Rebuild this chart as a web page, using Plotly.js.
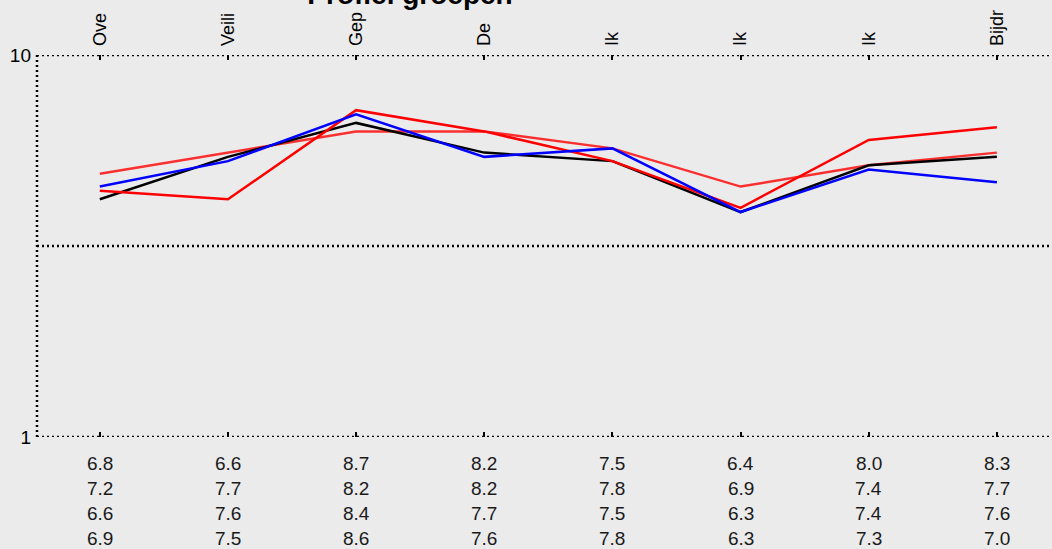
<!DOCTYPE html>
<html>
<head>
<meta charset="utf-8">
<script src="https://cdn.plot.ly/plotly-3.0.1.min.js"></script>
<style>html,body{margin:0;padding:0;background:#ebebeb;}#chart{width:1052px;height:549px;}</style>
</head>
<body>
<div id="chart"></div>
<script>
var categories = ["Ove", "Veili", "Gep", "De", "Ik", "Ik", "Ik", "Bijdr"];
var series1 = [6.8, 6.6, 8.7, 8.2, 7.5, 6.4, 8.0, 8.3];
var series2 = [7.2, 7.7, 8.2, 8.2, 7.8, 6.9, 7.4, 7.7];
var series3 = [6.6, 7.6, 8.4, 7.7, 7.5, 6.3, 7.4, 7.6];
var series4 = [6.9, 7.5, 8.6, 7.6, 7.8, 6.3, 7.3, 7.0];
var yTicks = [1, 10];
var titleText = "Profiel groepen";

var idx = categories.map(function(_, i){ return i; });
var FONT = "Liberation Sans, Arial, sans-serif";

function tr(vals, color, w, name){
  return {x: idx, y: vals, type: 'scatter', mode: 'lines', name: name,
          line: {color: color, width: w}, hoverinfo: 'y', showlegend: false};
}
var traces = [
  tr(series2, 'rgba(255,0,0,0.8)', 2.5, 'Rij 2'),
  tr(series3, '#000000', 2.5, 'Rij 3'),
  tr(series1, '#ff0000', 2.5, 'Rij 1'),
  tr(series4, '#0000ff', 2.5, 'Rij 4')
];

var rows = [series1, series2, series3, series4];
var annotations = [];
rows.forEach(function(r, ri){
  r.forEach(function(v, ci){
    annotations.push({x: ci, y: 0, xref: 'x', yref: 'paper', yanchor: 'middle', xanchor: 'center',
      yshift: -(26 + 25*ri), text: v.toFixed(1), showarrow: false,
      font: {family: FONT, size: 19, color: '#1a1a1a'}});
  });
});

var dot = '2px,3px';
var shapes = [
  {type:'line', xref:'paper', yref:'y', x0:0, x1:1, y0:10, y1:10, line:{color:'#000', width:2.5, dash:dot}},
  {type:'line', xref:'paper', yref:'y', x0:0, x1:1, y0:1, y1:1, line:{color:'#000', width:2.5, dash:dot}},
  {type:'line', xref:'paper', yref:'y', x0:0, x1:1, y0:5.5, y1:5.5, line:{color:'#000', width:2.5, dash:dot}},
  {type:'line', xref:'paper', yref:'y', x0:0, x1:0, y0:1, y1:10, line:{color:'#000', width:2.5, dash:dot}}
];

var layout = {
  width: 1052, height: 549,
  paper_bgcolor: '#ebebeb', plot_bgcolor: '#ebebeb',
  margin: {l: 37, r: 0, t: 55, b: 112, pad: 0},
  title: {text: '<b>' + titleText + '</b>', font: {family: FONT, size: 28, color: '#000'},
          x: 410/1052, xanchor: 'center', xref: 'container', y: 1 - 4/549, yanchor: 'bottom', yref: 'container'},
  xaxis: {range: [-0.49, 7.43], side: 'top', tickmode: 'array', tickvals: idx, ticktext: categories,
          tickangle: -90, ticks: 'inside', ticklen: 5, tickwidth: 2, tickcolor: '#000', mirror: 'ticks',
          ticklabelstandoff: 8,
          showgrid: false, zeroline: false, showline: false,
          tickfont: {family: FONT, size: 18, color: '#000'}, fixedrange: true},
  yaxis: {range: [1, 10], tickmode: 'array', tickvals: yTicks, ticktext: yTicks.map(String),
          ticks: 'inside', ticklen: 5, tickwidth: 2, tickcolor: '#000',
          ticklabelstandoff: 5,
          showgrid: false, zeroline: false, showline: false,
          tickfont: {family: FONT, size: 19, color: '#000'}, fixedrange: true},
  shapes: shapes,
  annotations: annotations,
  showlegend: false
};

Plotly.newPlot('chart', traces, layout, {displayModeBar: false, staticPlot: true});
</script>
</body>
</html>
